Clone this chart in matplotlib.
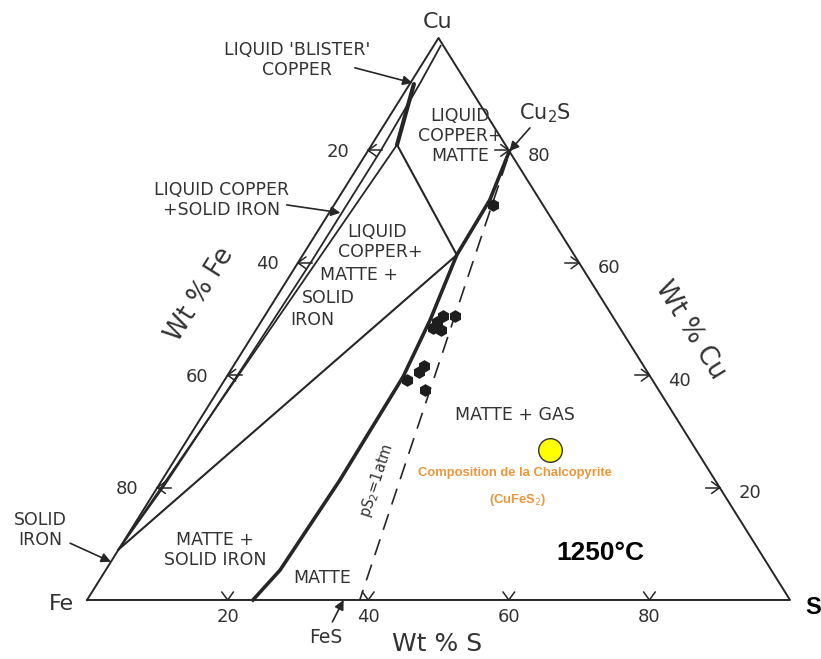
import numpy as np
import matplotlib.pyplot as plt

# Cu-Fe-S ternary at 1250 C, compositions as (wt% S, wt% Cu)
ticks = [20, 40, 60, 80]

cu2s = (20.15, 79.85)
fes = (36.5, 0.0)
liq_cu = (3.6, 81.0)       # liquid copper corner of the 3-phase triangle
matte_pt = (21.9, 61.4)    # matte corner
solid_fe = (0.0, 9.0)      # solid iron corner

inner_s = [1.0, 1.4, 1.8, 1.8, 1.4, 0.8, 0.0]
inner_cu = [98.6, 92.0, 80.0, 60.0, 40.0, 20.0, 9.0]

liqcu_s = [0.6, 3.6]
liqcu_cu = [91.8, 81.0]

matte_s = [20.15, 21.7, 21.9, 23.9, 25.1, 25.3, 24.8, 23.6]
matte_cu = [79.85, 71.2, 61.4, 49.8, 39.7, 21.3, 5.3, 0.0]

ps2_s = [20.6, 38.8]
ps2_cu = [78.3, 0.0]

dots_s = [22.6, 25.4, 27.1, 25.0, 25.0, 26.3, 27.1, 26.9, 25.9, 29.4]
dots_cu = [70.3, 50.5, 50.5, 49.5, 48.4, 48.0, 41.6, 40.6, 39.2, 37.4]

chalco = (52.5, 26.7)

LINE = "#262626"
TXT = "#333333"
XS, YS = 7.03, 5.62   # pixels per data unit


def tx(s, cu):
    s = np.asarray(s, float)
    cu = np.asarray(cu, float)
    return s + cu / 2, cu


def chevron(ax, s, cu, ang, stem=0, arm=10, spread=36):
    x0, y0 = tx(s, cu)
    for a in (ang - spread, ang + spread):
        r = np.radians(a)
        ax.plot([x0, x0 + arm * np.cos(r) / XS], [y0, y0 + arm * np.sin(r) / YS],
                color=LINE, lw=1.1, solid_capstyle="round")
    if stem:
        r = np.radians(ang)
        ax.plot([x0, x0 + stem * np.cos(r) / XS], [y0, y0 + stem * np.sin(r) / YS],
                color=LINE, lw=1.1)


fig = plt.figure(figsize=(8.21, 6.59), dpi=100)
ax = fig.add_axes([0, 0, 1, 1])
ax.set_xlim(-12.38, 104.41)
ax.set_ylim(-10.5, 106.76)
ax.axis("off")

# outer triangle
x, y = tx([0, 100, 0, 0], [0, 0, 100, 0])
ax.plot(x, y, color=LINE, lw=1.4)

# phase boundaries
ax.plot(*tx(inner_s, inner_cu), color=LINE, lw=1.3)
ax.plot(*tx(liqcu_s, liqcu_cu), color=LINE, lw=3.0, solid_capstyle="round")
ax.plot(*tx([liq_cu[0], solid_fe[0]], [liq_cu[1], solid_fe[1]]), color=LINE, lw=1.3)
ax.plot(*tx([liq_cu[0], matte_pt[0]], [liq_cu[1], matte_pt[1]]), color=LINE, lw=1.5)
ax.plot(*tx([matte_pt[0], solid_fe[0]], [matte_pt[1], solid_fe[1]]), color=LINE, lw=1.5)
ax.plot(*tx(matte_s, matte_cu), color=LINE, lw=2.6, solid_joinstyle="round")
ax.plot(*tx(ps2_s, ps2_cu), color=LINE, lw=1.2, dashes=(10, 6))

# measured points
ax.plot(*tx(dots_s, dots_cu), "h", color="#1e1e1e", ms=8, ls="none")

# axis ticks and labels
for t in ticks:
    chevron(ax, t, 0, 90)
    bx, by = tx(t, 0)
    ax.text(bx, by - 3.0, str(t), ha="center", va="center", fontsize=13, color=TXT)

    # Fe axis (left edge): Fe = t -> Cu = 100 - t
    chevron(ax, 0, 100 - t, 0, stem=14)
    lx, ly = tx(0, 100 - t)
    ax.text(lx - 4.3, ly - 0.3, str(t), ha="center", va="center", fontsize=13, color=TXT)

    # Cu axis (right edge)
    chevron(ax, 100 - t, t, 180, stem=14)
    rx, ry = tx(100 - t, t)
    ax.text(rx + 4.3, ry - 1.0, str(t), ha="center", va="center", fontsize=13, color=TXT)

ax.text(-3.6, -0.7, "Fe", ha="center", va="center", fontsize=16, color=TXT)
ax.text(49.8, 102.8, "Cu", ha="center", va="center", fontsize=16, color=TXT)
ax.text(103.3, -1.4, "S", ha="center", va="center", fontsize=17, color="black",
        fontweight="bold", family="Liberation Sans")

ax.text(16.1, 54.3, "Wt % Fe", ha="center", va="center", fontsize=18.5, color=TXT, rotation=58)
ax.text(85.8, 48.0, "Wt % Cu", ha="center", va="center", fontsize=18.5, color=TXT, rotation=-58)
ax.text(49.8, -7.9, "Wt % S", ha="center", va="center", fontsize=18, color=TXT)

# region labels
fs = 12.5
ax.text(29.9, 96.1, "LIQUID 'BLISTER'\nCOPPER", ha="center", va="center", fontsize=fs,
        color=TXT, linespacing=1.1)
ax.text(53.1, 82.6, "LIQUID\nCOPPER+\nMATTE", ha="center", va="center", fontsize=fs,
        color=TXT, linespacing=1.15)
ax.text(19.2, 71.2, "LIQUID COPPER\n+SOLID IRON", ha="center", va="center", fontsize=fs,
        color=TXT, linespacing=1.15)
for txt, lx, ly in [("LIQUID", 37.0, 65.5), ("COPPER+", 35.7, 61.9), ("MATTE +", 33.1, 57.8),
                    ("SOLID", 30.6, 53.7), ("IRON", 28.9, 49.8)]:
    ax.text(lx, ly, txt, ha="left", va="center", fontsize=fs, color=TXT)
ax.text(60.9, 32.9, "MATTE + GAS", ha="center", va="center", fontsize=fs, color=TXT)
ax.text(18.2, 8.9, "MATTE +\nSOLID IRON", ha="center", va="center", fontsize=fs,
        color=TXT, linespacing=1.15)
ax.text(33.4, 3.9, "MATTE", ha="center", va="center", fontsize=fs, color=TXT)
ax.text(-6.7, 12.5, "SOLID\nIRON", ha="center", va="center", fontsize=fs, color=TXT,
        linespacing=1.15)
ax.text(41.25, 21.35, "pS$_2$=1atm", ha="center", va="center", fontsize=10.5, color=TXT,
        rotation=72)
ax.text(65.1, 86.7, "Cu$_2$S", ha="center", va="center", fontsize=15, color=TXT)
ax.text(33.9, -6.6, "FeS", ha="center", va="center", fontsize=13.5, color=TXT)

# arrows
arw = dict(arrowstyle="-|>", color=LINE, lw=1.2, mutation_scale=14, shrinkA=0, shrinkB=0)
ax.annotate("", xy=tx(0.3, 92.0), xytext=(38.1, 94.7), arrowprops=arw)
ax.annotate("", xy=tx(*cu2s), xytext=(63.0, 84.0), arrowprops=arw)
ax.annotate("", xy=tx(1.6, 68.9), xytext=(28.4, 70.3), arrowprops=arw)
ax.annotate("", xy=tx(0.0, 6.8), xytext=(-2.4, 10.1), arrowprops=arw)
ax.annotate("", xy=tx(*fes), xytext=(34.9, -3.9), arrowprops=arw)

# chalcopyrite composition
ax.plot(*tx(*chalco), "o", ms=17, mfc="#FFFF00", mec="#333333", mew=1.0)
orange = "#EB963C"
ax.text(60.9, 22.6, "Composition de la Chalcopyrite", ha="center", va="center",
        fontsize=9.4, color=orange, fontweight="bold", family="Liberation Sans")
ax.text(61.3, 17.8, "(CuFeS$_2$)", ha="center", va="center", fontsize=9.4, color=orange,
        fontweight="bold", family="Liberation Sans")
ax.text(73.0, 8.4, "1250°C", ha="center", va="center", fontsize=19, color="black",
        fontweight="bold", family="Liberation Sans")

fig.savefig("out.png", dpi=100)
